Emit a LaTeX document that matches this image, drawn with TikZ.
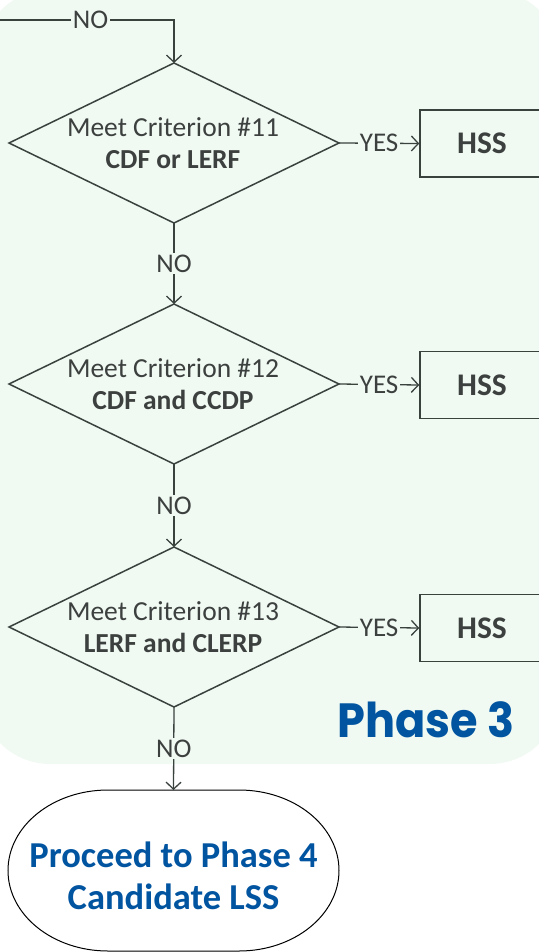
\documentclass[tikz,border=0pt]{standalone}
\usepackage{fontspec}
\setmainfont{Carlito}
\newfontfamily\phasefont{Poppins}
\usetikzlibrary{arrows.meta}
\definecolor{bggreen}{RGB}{240,250,243}
\definecolor{linegray}{RGB}{58,66,62}
\definecolor{txtgray}{RGB}{60,64,62}
\definecolor{phaseblue}{RGB}{0,84,160}
\begin{document}
\begin{tikzpicture}[x=1pt,y=1pt,
  conn/.style={draw=linegray,line width=1.3pt,-{Straight Barb[length=7pt,width=15pt,line width=1.3pt]}},
  shapeline/.style={draw=linegray,line width=1.5pt,line join=miter},
  dtext/.style={align=center,text=txtgray,inner sep=0pt,font=\fontsize{27.5}{32}\selectfont},
  lbl/.style={fill=bggreen,text=txtgray,inner sep=2pt,font=\fontsize{27}{30}\selectfont},
  hss/.style={draw=linegray,line width=1.5pt,minimum width=124pt,minimum height=67pt,inner sep=0pt,text=txtgray,font=\fontsize{31.5}{36}\selectfont\bfseries},
  termtext/.style={align=center,text=phaseblue,inner sep=0pt,font=\fontsize{36.5}{42}\selectfont\bfseries}
]
\useasboundingbox (0,0) rectangle (538,-952);
% background panel
\fill[bggreen,rounded corners=70pt] (-20,10) rectangle (560,-764);

% diamonds
\coordinate (d1t) at (174,-63);  \coordinate (d1b) at (174,-223);
\coordinate (d1l) at (9,-143);   \coordinate (d1r) at (339,-143);
\coordinate (d2t) at (174,-304); \coordinate (d2b) at (174,-464);
\coordinate (d2l) at (9,-384);   \coordinate (d2r) at (339,-384);
\coordinate (d3t) at (174,-547); \coordinate (d3b) at (174,-707);
\coordinate (d3l) at (9,-627);   \coordinate (d3r) at (339,-627);
\draw[shapeline] (d1t) -- (d1r) -- (d1b) -- (d1l) -- cycle;
\draw[shapeline] (d2t) -- (d2r) -- (d2b) -- (d2l) -- cycle;
\draw[shapeline] (d3t) -- (d3r) -- (d3b) -- (d3l) -- cycle;
\node[dtext] (d1) at (173,-143) {Meet Criterion \#11\\\textbf{CDF or LERF}};
\node[dtext] (d2) at (173,-384) {Meet Criterion \#12\\\textbf{CDF and CCDP}};
\node[dtext] (d3) at (173,-627) {Meet Criterion \#13\\\textbf{LERF and CLERP}};

% HSS boxes
\node[hss] (h1) at (482,-143.5) {HSS};
\node[hss] (h2) at (482,-385) {HSS};
\node[hss] (h3) at (482,-628) {HSS};

% phase label
\node[anchor=base west,inner sep=0pt,text=phaseblue,font=\fontsize{48}{56}\phasefont\bfseries] (ph) at (337,-737) {\scalebox{0.93}[1]{Phase 3}};

% terminal
\draw[draw=black,line width=1pt,fill=white] (108,-790) -- (239,-790)
  arc[start angle=90,end angle=-90,x radius=100,y radius=80.5] -- (108,-951)
  arc[start angle=270,end angle=90,x radius=100,y radius=80.5] -- cycle;
\coordinate (termtop) at (173.5,-790);
\node[termtext] (term) at (173.5,-876) {Proceed to Phase 4\\Candidate LSS};

% connectors
\coordinate (start) at (0,-20);
\coordinate (c0) at (174,-20);
\draw[conn] (start) -- node[lbl,pos=0.52]{NO} (c0) -- (d1t);
\draw[conn] (d1r) -- node[lbl]{YES} (h1.west);
\draw[conn] (d2r) -- node[lbl]{YES} (h2.west);
\draw[conn] (d3r) -- node[lbl]{YES} (h3.west);
\draw[conn] (d1b) -- node[lbl]{NO} (d2t);
\draw[conn] (d2b) -- node[lbl]{NO} (d3t);
\draw[conn] (d3b) -- node[lbl]{NO} (termtop);
\end{tikzpicture}
\end{document}
